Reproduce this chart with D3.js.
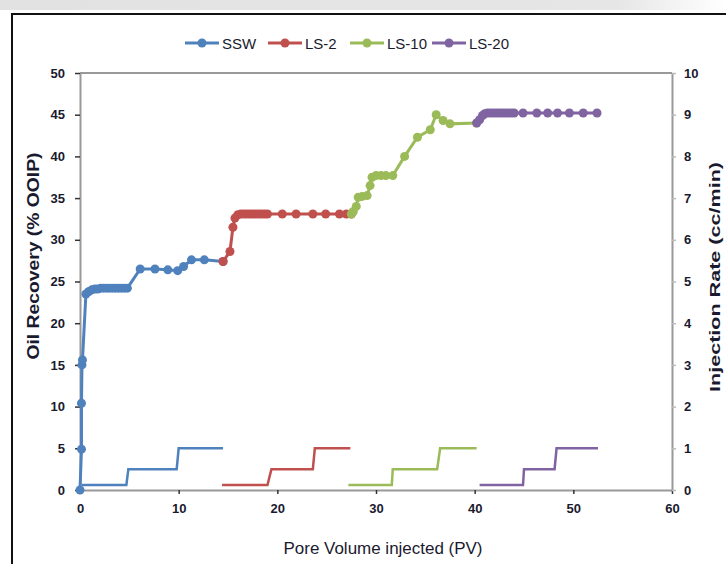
<!DOCTYPE html>
<html><head><meta charset="utf-8">
<script src="https://cdn.jsdelivr.net/npm/d3@7"></script>
<style>
body{margin:0;background:#fff;}
text{font-family:"Liberation Sans Narrow","Arial Narrow","Liberation Sans",Arial,sans-serif;}
</style></head><body>
<svg id="c" width="726" height="564"></svg>
<script>
// ---- data ----
const seriesNames = ["SSW", "LS-2", "LS-10", "LS-20"];
const colors = ["#4f81bd", "#c0504d", "#9bbb59", "#8064a2"];

const sswX = [0, 0.15, 0.15, 0.2, 0.25, 0.6, 0.9, 1.2, 1.5, 1.8, 2.1, 2.4, 2.7, 3.0, 3.3, 3.6, 3.9, 4.2, 4.5, 4.8, 6.1, 7.6, 8.9, 9.9, 10.5, 11.3, 12.6, 14.5];
const sswY = [0, 4.9, 10.4, 15.0, 15.6, 23.5, 23.8, 24.0, 24.1, 24.1, 24.2, 24.2, 24.2, 24.2, 24.2, 24.2, 24.2, 24.2, 24.2, 24.2, 26.5, 26.5, 26.4, 26.3, 26.8, 27.6, 27.6, 27.4];

const ls2X = [14.5, 15.2, 15.5, 15.7, 16.0, 16.3, 16.6, 16.9, 17.2, 17.5, 17.8, 18.1, 18.4, 18.7, 19.0, 20.5, 21.9, 23.6, 24.9, 26.3, 27.0, 27.5];
const ls2Y = [27.4, 28.6, 31.5, 32.6, 33.0, 33.1, 33.1, 33.1, 33.1, 33.1, 33.1, 33.1, 33.1, 33.1, 33.1, 33.1, 33.1, 33.1, 33.1, 33.1, 33.1, 33.1];

const ls10X = [27.5, 27.7, 28.0, 28.2, 28.6, 29.1, 29.4, 29.6, 30.0, 30.5, 31.0, 31.7, 32.9, 34.2, 35.5, 36.1, 36.8, 37.5, 40.2];
const ls10Y = [33.1, 33.4, 34.0, 35.1, 35.2, 35.3, 36.5, 37.5, 37.7, 37.7, 37.7, 37.7, 40.0, 42.3, 43.2, 45.0, 44.3, 43.9, 44.0];

const ls20X = [40.2, 40.5, 40.8, 41.0, 41.3, 41.6, 41.9, 42.2, 42.5, 42.8, 43.1, 43.4, 43.7, 44.0, 44.9, 46.3, 47.4, 48.4, 49.6, 51.0, 52.4];
const ls20Y = [44.0, 44.4, 44.9, 45.1, 45.2, 45.2, 45.2, 45.2, 45.2, 45.2, 45.2, 45.2, 45.2, 45.2, 45.2, 45.2, 45.2, 45.2, 45.2, 45.2, 45.2];

// injection rate (right axis)
const sswRateX = [0.2, 4.7, 4.9, 9.8, 10.0, 14.5];
const sswRate  = [0.12, 0.12, 0.5, 0.5, 1.0, 1.0];
const ls2RateX = [14.4, 19.0, 19.4, 23.6, 23.8, 27.4];
const ls2Rate  = [0.12, 0.12, 0.5, 0.5, 1.0, 1.0];
const ls10RateX = [27.2, 31.6, 31.7, 36.2, 36.5, 40.2];
const ls10Rate  = [0.12, 0.12, 0.5, 0.5, 1.0, 1.0];
const ls20RateX = [40.5, 44.9, 45.0, 48.1, 48.3, 52.5];
const ls20Rate  = [0.12, 0.12, 0.5, 0.5, 1.0, 1.0];

const xTicks = [0, 10, 20, 30, 40, 50, 60];
const yTicks = [0, 5, 10, 15, 20, 25, 30, 35, 40, 45, 50];
const y2Ticks = [0, 1, 2, 3, 4, 5, 6, 7, 8, 9, 10];

const recX = [sswX, ls2X, ls10X, ls20X];
const recY = [sswY, ls2Y, ls10Y, ls20Y];
const rateX = [sswRateX, ls2RateX, ls10RateX, ls20RateX];
const rateY = [sswRate, ls2Rate, ls10Rate, ls20Rate];

// ---- drawing ----
const svg = d3.select("#c");
const L = 80, R = 672, T = 73, B = 490;
const x = d3.scaleLinear().domain([0, 60]).range([L, R]);
const y = d3.scaleLinear().domain([0, 50]).range([B, T]);
const y2 = d3.scaleLinear().domain([0, 10]).range([B, T]);

// top gray strip
const grad = svg.append("defs").append("linearGradient").attr("id","g").attr("x1","0").attr("x2","1");
grad.append("stop").attr("offset","0").attr("stop-color","#e2e2e2");
grad.append("stop").attr("offset","0.85").attr("stop-color","#e6e6e6");
grad.append("stop").attr("offset","1").attr("stop-color","#ffffff");
svg.append("rect").attr("x",0).attr("y",0).attr("width",726).attr("height",10).attr("fill","url(#g)");

// outer border
svg.append("rect").attr("x",12).attr("y",14).attr("width",730).attr("height",570)
  .attr("fill","#fff").attr("stroke","#111").attr("stroke-width",2);

// plot frame
svg.append("line").attr("x1",L).attr("x2",R).attr("y1",T).attr("y2",T).attr("stroke","#999").attr("stroke-width",2);

// axes
const gx = svg.append("g").attr("transform",`translate(0,${B})`)
  .call(d3.axisBottom(x).tickValues(xTicks).tickSize(4).tickSizeOuter(0).tickPadding(10));
const gy = svg.append("g").attr("transform",`translate(${L},0)`)
  .call(d3.axisLeft(y).tickValues(yTicks).tickSize(5).tickSizeOuter(0).tickPadding(10));
const gy2 = svg.append("g").attr("transform",`translate(${R},0)`)
  .call(d3.axisRight(y2).tickValues(y2Ticks).tickSize(4).tickSizeOuter(0).tickPadding(8));
[gx, gy, gy2].forEach(g => {
  g.select(".domain").attr("stroke","#999").attr("stroke-width",2);
  g.selectAll(".tick line").attr("stroke","#333").attr("stroke-width",1.5);
  g.selectAll(".tick text").attr("fill","#1a1a2e").attr("font-size",13).attr("font-weight","bold");
});
gy2.selectAll(".tick line").attr("stroke","#bbb");

// rate lines
const rl = d3.line().x(d => x(d[0])).y(d => y2(d[1]));
rateX.forEach((xs, i) => {
  const pts = xs.map((v, j) => [v, rateY[i][j]]);
  svg.append("path").attr("d", rl(pts)).attr("fill","none").attr("stroke",colors[i]).attr("stroke-width",2.5);
});

// recovery lines
const ln = d3.line().x(d => x(d[0])).y(d => y(d[1]));
recX.forEach((xs, i) => {
  const pts = xs.map((v, j) => [v, recY[i][j]]);
  svg.append("path").attr("d", ln(pts)).attr("fill","none").attr("stroke",colors[i]).attr("stroke-width",3);
  svg.append("g").selectAll("circle").data(pts).join("circle")
    .attr("cx", d => x(d[0])).attr("cy", d => y(d[1])).attr("r",4.5).attr("fill",colors[i]);
});

// axis titles
svg.append("text").attr("x",383).attr("y",554).attr("text-anchor","middle")
  .attr("font-size",16).attr("fill","#1a1a2e")
  .attr("textLength",199).attr("lengthAdjust","spacingAndGlyphs").text("Pore Volume injected (PV)");
svg.append("text").attr("transform","translate(39,256) rotate(-90)").attr("text-anchor","middle")
  .attr("font-size",16).attr("font-weight","bold").attr("fill","#1a1a2e")
  .attr("textLength",207).attr("lengthAdjust","spacingAndGlyphs").text("Oil Recovery (% OOIP)");
svg.append("text").attr("transform","translate(720,277) rotate(-90)").attr("text-anchor","middle")
  .attr("font-size",15).attr("font-weight","bold").attr("fill","#1a1a2e")
  .attr("textLength",230).attr("lengthAdjust","spacingAndGlyphs").text("Injection Rate (cc/min)");

// legend
const legX = [185, 268, 350, 432];
seriesNames.forEach((n, i) => {
  const g = svg.append("g").attr("transform",`translate(${legX[i]},43)`);
  g.append("line").attr("x1",0).attr("x2",34).attr("stroke",colors[i]).attr("stroke-width",3);
  g.append("circle").attr("cx",17).attr("r",4.5).attr("fill",colors[i]);
  g.append("text").attr("x",37).attr("y",5.5).attr("font-size",15).attr("fill","#1a1a2e").text(n);
});
</script>
</body></html>
